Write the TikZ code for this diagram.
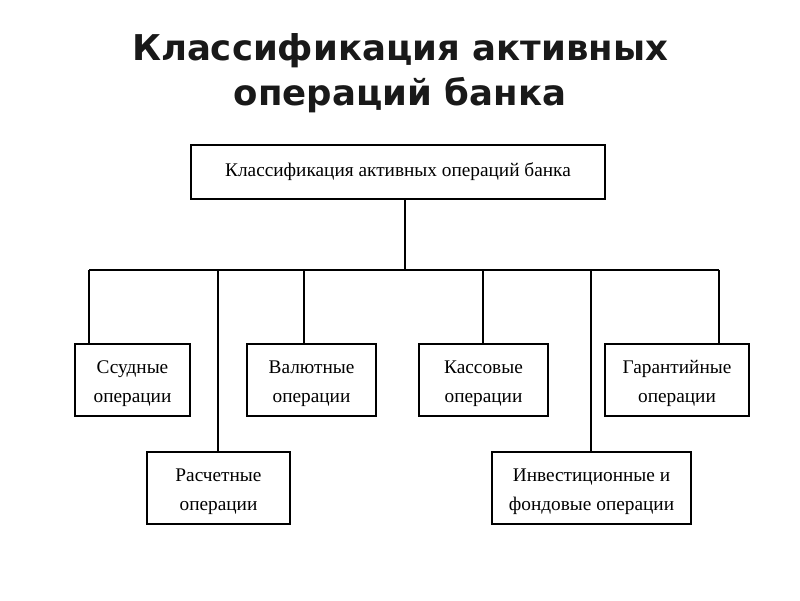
\documentclass[tikz,border=0pt]{standalone}
\usepackage{fontspec}
\setmainfont{Liberation Serif}
\newfontfamily\titlefont{DejaVu Sans}
\begin{document}
\begin{tikzpicture}[x=1pt,y=-1pt,
  box/.style={draw=black,line width=2pt,inner sep=0pt,align=center,
    font=\fontsize{19.3}{29}\selectfont,anchor=north west},
  opbox/.style={box,minimum height=72pt},
  conn/.style={line width=1.3pt,black}]
\useasboundingbox (0,0) rectangle (800,600);
\node[font=\titlefont\bfseries\fontsize{35.5}{45}\selectfont,align=center,text=black!90] (title) at (400,73)
  {Классификация активных\\операций банка};
\node[box,minimum width=414pt,minimum height=54pt] (top) at (190,144) {Классификация активных операций банка};
\node[opbox,minimum width=115pt] (ss) at (74,343) {\rule{0pt}{21pt}Ссудные\\операции};
\node[opbox,minimum width=129pt] (val) at (246,343) {\rule{0pt}{21pt}Валютные\\операции};
\node[opbox,minimum width=129pt] (kas) at (418,343) {\rule{0pt}{21pt}Кассовые\\операции};
\node[opbox,minimum width=144pt] (gar) at (604,343) {\rule{0pt}{21pt}Гарантийные\\операции};
\node[opbox,minimum width=143pt] (ras) at (146,451) {\rule{0pt}{21pt}Расчетные\\операции};
\node[opbox,minimum width=199pt] (inv) at (491,451) {\rule{0pt}{21pt}Инвестиционные и\\фондовые операции};
\coordinate (hub) at (405,270);
\coordinate (b1) at (89,270);
\coordinate (b2) at (218,270);
\coordinate (b3) at (304,270);
\coordinate (b4) at (483,270);
\coordinate (b5) at (591,270);
\coordinate (b6) at (719,270);
\draw[conn] (top.south -| hub) -- (hub);
\draw[line width=2pt] (b1) -- (b6);
\draw[conn] (b1) -- (b1 |- ss.north);
\draw[conn] (b2) -- (b2 |- ras.north);
\draw[conn] (b3) -- (b3 |- val.north);
\draw[line width=2pt] (b4) -- (b4 |- kas.north);
\draw[conn] (b5) -- (b5 |- inv.north);
\draw[conn] (b6) -- (b6 |- gar.north);
\end{tikzpicture}
\end{document}
